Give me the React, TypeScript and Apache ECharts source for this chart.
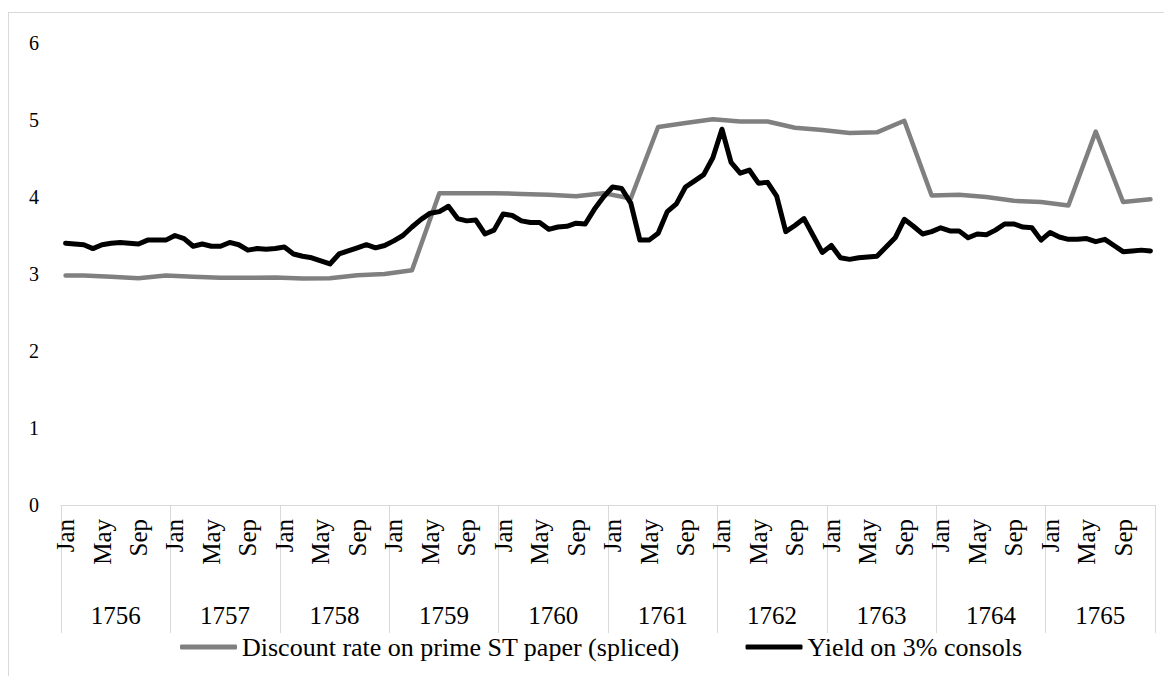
import React, { useEffect, useRef } from "react";
import * as echarts from "echarts";

const months = ["Jan", "Feb", "Mar", "Apr", "May", "Jun", "Jul", "Aug", "Sep", "Oct", "Nov", "Dec"];
const years = ["1756", "1757", "1758", "1759", "1760", "1761", "1762", "1763", "1764", "1765"];

// Yield on 3% consols, monthly Jan 1756 - Dec 1765
const consolsYield = [
  3.40, 3.39, 3.38, 3.33, 3.38, 3.40, 3.41, 3.40, 3.39, 3.44, 3.44, 3.44,
  3.50, 3.46, 3.36, 3.39, 3.36, 3.36, 3.41, 3.38, 3.31, 3.33, 3.32, 3.33,
  3.35, 3.26, 3.23, 3.21, 3.17, 3.13, 3.26, 3.30, 3.34, 3.38, 3.34, 3.37,
  3.43, 3.50, 3.61, 3.71, 3.79, 3.81, 3.88, 3.72, 3.69, 3.70, 3.52, 3.57,
  3.78, 3.76, 3.69, 3.67, 3.67, 3.58, 3.61, 3.62, 3.66, 3.65, 3.84, 4.00,
  4.13, 4.11, 3.92, 3.44, 3.44, 3.53, 3.81, 3.91, 4.13, 4.21, 4.29, 4.51,
  4.88, 4.45, 4.31, 4.35, 4.18, 4.19, 4.01, 3.55, 3.63, 3.72, 3.50, 3.28,
  3.37, 3.21, 3.19, 3.21, 3.22, 3.23, 3.35, 3.47, 3.71, 3.62, 3.52, 3.55,
  3.60, 3.56, 3.56, 3.47, 3.52, 3.51, 3.57, 3.65, 3.65, 3.61, 3.60, 3.44,
  3.54, 3.48, 3.45, 3.45, 3.46, 3.42, 3.45, 3.37, 3.29, 3.30, 3.31, 3.30,
];

// Discount rate on prime ST paper (spliced): first observation Jan 1756,
// then quarterly observations (Mar, Jun, Sep, Dec)
const discountJan1756 = 2.98;
const discountQuarterly = [
  2.98, 2.965, 2.945, 2.98,
  2.965, 2.95, 2.95, 2.955,
  2.94, 2.945, 2.985, 3.00,
  3.05, 4.05, 4.05, 4.05,
  4.04, 4.03, 4.01, 4.05,
  3.98, 4.91, 4.96, 5.01,
  4.98, 4.98, 4.90, 4.87,
  4.83, 4.84, 4.99, 4.02,
  4.03, 4.00, 3.95, 3.935,
  3.89, 4.85, 3.935, 3.97,
];

const seriesNames = ["Discount rate on prime ST paper (spliced)", "Yield on 3% consols"];

const FONT = "'Liberation Serif', 'Times New Roman', serif";

export default function App() {
  const ref = useRef<HTMLDivElement>(null);

  useEffect(() => {
    document.documentElement.style.overflow = "hidden";
    document.body.style.overflow = "hidden";
    if (!ref.current) return;
    const chart = echarts.init(ref.current, undefined, { renderer: "svg" });

    const categories: string[] = [];
    years.forEach((y) => months.forEach((m) => categories.push(m + " " + y)));

    const discount: (number | null)[] = categories.map(() => null);
    discount[0] = discountJan1756;
    discountQuarterly.forEach((v, q) => {
      discount[q * 3 + 2] = v;
    });

    chart.setOption({
      animation: false,
      grid: { left: 52, right: 17, top: 30, bottom: 175 },
      legend: {
        data: seriesNames,
        left: 166,
        top: 614,
        icon: "roundRect",
        itemWidth: 57,
        itemHeight: 5,
        itemGap: 66,
        textStyle: { fontSize: 26, lineHeight: 30, fontFamily: FONT, color: "#000" },
      },
      xAxis: [
        {
          type: "category",
          data: categories,
          boundaryGap: true,
          axisLine: { show: true, lineStyle: { color: "#d9d9d9", width: 1 } },
          axisTick: { show: false },
          splitLine: { show: false },
          axisLabel: {
            interval: 3,
            rotate: 90,
            margin: 14,
            fontSize: 25,
            fontFamily: FONT,
            color: "#000",
            formatter: (v: string) => v.split(" ")[0],
          },
        },
        {
          type: "category",
          data: years,
          position: "bottom",
          boundaryGap: true,
          axisLine: { show: false },
          axisTick: { show: true, length: 128, lineStyle: { color: "#d9d9d9", width: 1 } },
          splitLine: { show: false },
          axisLabel: {
            margin: 98,
            fontSize: 25,
            fontFamily: FONT,
            color: "#000",
          },
        },
      ],
      yAxis: {
        type: "value",
        min: 0,
        max: 6,
        interval: 1,
        axisLine: { show: false },
        axisTick: { show: false },
        splitLine: { show: false },
        axisLabel: { fontSize: 20, fontFamily: FONT, color: "#000", margin: 22 },
      },
      series: [
        {
          name: seriesNames[0],
          type: "line",
          data: discount,
          connectNulls: true,
          symbol: "none",
          lineStyle: { color: "#808080", width: 4.5, cap: "round", join: "round" },
          itemStyle: { color: "#808080" },
        },
        {
          name: seriesNames[1],
          type: "line",
          data: consolsYield,
          symbol: "none",
          lineStyle: { color: "#000000", width: 5, cap: "round", join: "round" },
          itemStyle: { color: "#000000" },
        },
      ],
    });

    return () => chart.dispose();
  }, []);

  return (
    <div
      style={{
        position: "relative",
        top: 4,
        width: 1163,
        height: 667,
        borderTop: "1px solid #d9d9d9",
        borderLeft: "1px solid #d9d9d9",
        background: "#fff",
      }}
    >
      <div ref={ref} style={{ width: 1163, height: 667 }} />
    </div>
  );
}
